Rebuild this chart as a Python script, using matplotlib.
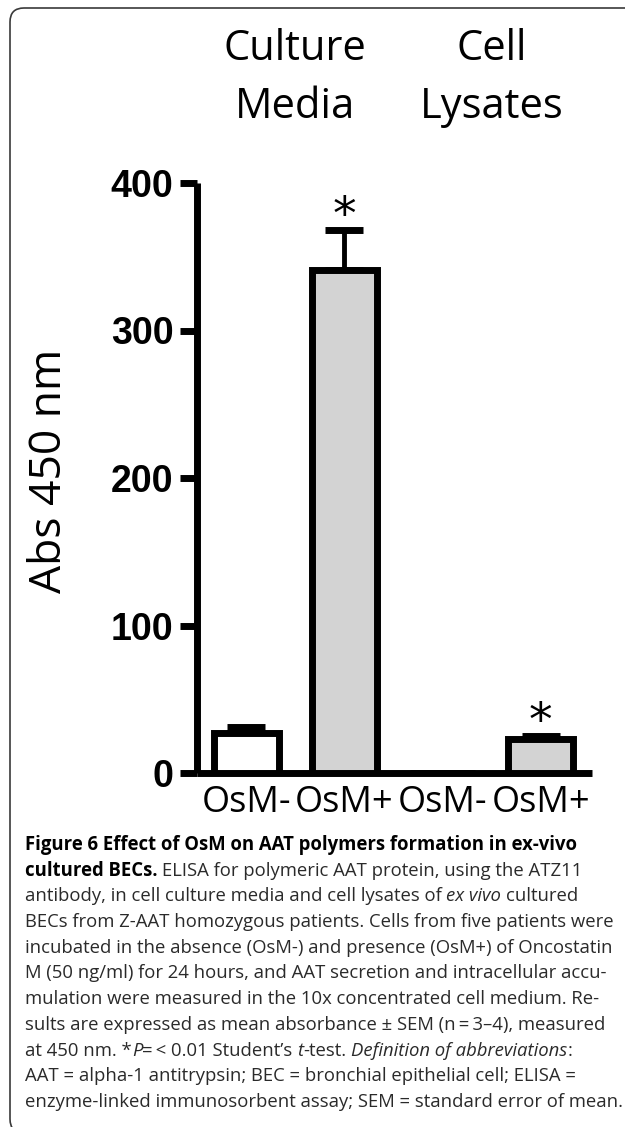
import numpy as np
import matplotlib
matplotlib.use("Agg")
import matplotlib.pyplot as plt
from matplotlib.patches import FancyBboxPatch

W, H = 625, 1127

# data
groups = ["Culture\nMedia", "Cell\nLysates"]
labels = ["OsM-", "OsM+", "OsM-", "OsM+"]
means = [27, 341, 0, 23]
sem = [4, 27, 0, 2]
fills = ["white", "#d3d3d3", "white", "#d3d3d3"]
signif = [False, True, False, True]
yticks = [0, 100, 200, 300, 400]

B, N, I = "bold", "normal", "italic"
caption = [
    [("Figure 6 Effect of OsM on AAT polymers formation in ex-vivo", B)],
    [("cultured BECs.", B), (" ELISA for polymeric AAT protein, using the ATZ11", N)],
    [("antibody, in cell culture media and cell lysates of ", N), ("ex vivo", I), (" cultured", N)],
    [("BECs from Z-AAT homozygous patients. Cells from five patients were", N)],
    [("incubated in the absence (OsM-) and presence (OsM+) of Oncostatin", N)],
    [("M (50 ng/ml) for 24 hours, and AAT secretion and intracellular accu-", N)],
    [("mulation were measured in the 10x concentrated cell medium. Re-", N)],
    [("sults are expressed as mean absorbance \u00b1 SEM (n\u2009=\u20093\u20134), measured", N)],
    [("at 450 nm. *", N), ("P", I), ("\u2009=\u2009< 0.01 Student\u2019s ", N), ("t", I), ("-test. ", N),
     ("Definition of abbreviations", I), (":", N)],
    [("AAT = alpha-1 antitrypsin; BEC = bronchial epithelial cell; ELISA =", N)],
    [("enzyme-linked immunosorbent assay; SEM = standard error of mean.", N)],
]

fig = plt.figure(figsize=(W / 100, H / 100), dpi=100)
fig.patch.set_facecolor("white")

# rounded frame (only top/left visible, rest runs off the page)
frame = FancyBboxPatch((10, -6), 700, H - 8 + 6, boxstyle="round,pad=0,rounding_size=14",
                       transform=None, fill=False, edgecolor="#3a3a3a", linewidth=1.2)
fig.patches.append(frame)

# axes placed in pixel terms
x0, x1, y_top, y_base = 197, 592, 183, 773
ax = fig.add_axes([x0 / W, 1 - y_base / H, (x1 - x0) / W, (y_base - y_top) / H])
x = np.arange(len(labels))
ax.bar(x, means, width=0.66, color=fills, edgecolor="black", linewidth=5, zorder=3)
ax.errorbar(x, means, yerr=[np.zeros(len(sem)), sem], fmt="none", ecolor="black",
            elinewidth=3.5, capsize=14, capthick=5, zorder=2)
for i in range(len(labels)):
    if signif[i]:
        ax.annotate("*", (x[i], means[i] + sem[i]), xytext=(0, 1), textcoords="offset points",
                    ha="center", va="baseline", fontsize=34, family="DejaVu Sans")

ax.set_xlim(-0.5, 3.52)
ax.set_ylim(0, 400)
ax.set_yticks(yticks)
ax.set_yticklabels([str(v) for v in yticks], fontsize=27, fontweight="bold", family="Liberation Sans")
ax.set_xticks(x)
ax.set_xticklabels(labels, fontsize=26, family="Open Sans")
ax.tick_params(axis="y", length=12, width=5, pad=5)
ax.tick_params(axis="x", length=0, pad=9)
for s in ["top", "right"]:
    ax.spines[s].set_visible(False)
for s in ["left", "bottom"]:
    ax.spines[s].set_linewidth(5)
    ax.spines[s].set_capstyle("butt")

# group headers
centers = [(x[0] + x[1]) / 2, (x[2] + x[3]) / 2]
for g, c in zip(groups, centers):
    px = x0 + (c + 0.5) / 4.02 * (x1 - x0)
    for k, line in enumerate(g.split("\n")):
        fig.text(px / W, 1 - (60 + 58 * k) / H, line, ha="center", va="baseline",
                 fontsize=30, family="Open Sans")

fig.text(50 / W, 1 - 471 / H, "Abs 450 nm", rotation=90, ha="center", va="center",
         fontsize=32, family="Open Sans")

# caption with mixed styles
renderer = fig.canvas.get_renderer()


def width(s, size, kind):
    t = fig.text(0, 0, s, fontsize=size, family="Open Sans",
                 fontweight="bold" if kind == B else "normal",
                 fontstyle="italic" if kind == I else "normal")
    w = t.get_window_extent(renderer).width
    t.remove()
    return w


ref = caption[3][0][0]
size = 12 * 587 / width(ref, 12, N)
space = width("a a", size, N) - width("aa", size, N)
base = 850
for li, segs in enumerate(caption):
    px = 25
    y = base + li * 25.7
    for s, kind in segs:
        if s.startswith(" "):
            px += space
        core = s.strip()
        fig.text(px / W, 1 - y / H, core, fontsize=size, family="Open Sans",
                 fontweight="bold" if kind == B else "normal",
                 fontstyle="italic" if kind == I else "normal",
                 color="black" if kind == B else "#2a2a2a", va="baseline", ha="left")
        px += width(core, size, kind)
        if s.endswith(" "):
            px += space

fig.savefig("out.png", dpi=100)
